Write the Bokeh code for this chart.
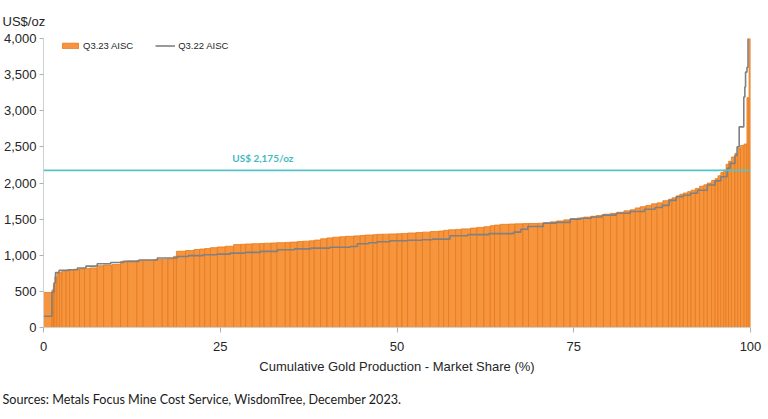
from bokeh.plotting import figure
from bokeh.models import (Range1d, FixedTicker, NumeralTickFormatter, Span, Label,
                          Legend, LegendItem, Title, ColumnDataSource)
from bokeh.embed import file_html
from bokeh.resources import INLINE
import numpy as np

# Q3.23 AISC cost curve: each mine's share of production (%) and its cost (US$/oz)
share_23 = [1.2, 0.2, 0.2, 0.3,
            0.35, 0.35,
            0.6, 0.5, 0.6,
            0.8, 0.7, 0.8,
            1.0,
            0.9, 1.2, 1.2,
            1.0, 1.3, 0.9, 1.5,
            1.2, 0.8, 0.8,
            0.4,
            1.3, 1.2,
            0.8, 0.7, 0.8,
            1.0, 1.1, 1.2,
            1.0, 0.7, 0.9, 1.1, 0.6, 1.0, 0.8, 1.2, 0.7, 1.0,
            0.8, 0.9, 0.7, 0.9,
            0.9, 0.8,
            1.0, 0.8, 1.2, 0.9, 0.7, 1.1, 0.6, 0.8,
            0.9, 1.1, 0.7, 0.8,
            1.2, 0.9, 1.1, 1.2,
            0.7, 0.7,
            1.0, 0.8, 1.3,
            0.9, 1.0, 0.9,
            0.6, 0.8,
            1.2, 0.9, 1.1, 0.8, 1.3, 0.7, 1.1,
            0.9, 1.0, 0.9,
            1.0, 0.9, 1.0,
            0.8, 1.0, 1.0,
            0.9, 1.0, 0.9,
            0.7, 0.7,
            0.8, 0.8, 0.8,
            0.8, 0.8,
            0.5, 0.6, 0.5, 0.5,
            0.6, 0.5, 0.6, 0.6, 0.6,
            0.5, 0.6, 0.5,
            0.4, 0.4, 0.4,
            0.35, 0.35,
            0.4, 0.5, 0.4,
            0.4, 0.5, 0.4,
            0.3, 0.2]
aisc_23 = [485, 520, 600, 700,
           750, 760,
           790, 795, 800,
           805, 812, 818,
           825,
           855, 865, 872,
           915, 922, 928, 932,
           940, 946, 950,
           985,
           1055, 1065,
           1080, 1086, 1092,
           1105, 1115, 1125,
           1148, 1152, 1156, 1160, 1163, 1166, 1170, 1174, 1178, 1182,
           1190, 1195, 1200, 1210,
           1228, 1240,
           1250, 1256, 1262, 1268, 1274, 1280, 1285, 1290,
           1292, 1295, 1298, 1302,
           1308, 1314, 1320, 1328,
           1335, 1345,
           1352, 1358, 1365,
           1376, 1385, 1395,
           1410, 1418,
           1428, 1432, 1435, 1438, 1440, 1443, 1447,
           1462, 1475, 1490,
           1505, 1515, 1528,
           1540, 1550, 1568,
           1580, 1595, 1615,
           1630, 1655,
           1672, 1690, 1712,
           1725, 1755,
           1775, 1795, 1820, 1845,
           1862, 1880, 1900, 1925, 1955,
           1975, 2000, 2035,
           2060, 2100, 2145,
           2180, 2260,
           2300, 2360, 2410,
           2480, 2520, 2540,
           3180, 4150]

# Q3.22 AISC curve: cumulative share (%) where each cost step starts, and its cost
cum_share_22 = [0, 1.2, 1.5, 1.7, 2.2, 3.5, 4.8, 6.0, 7.6, 9.5, 11.3, 13.5, 16.1,
                18.9, 20.5, 22.6, 24.5, 26.4, 28.5, 30.7, 33.1, 35.5, 37.8, 40.5,
                43.4, 44.4, 46.0, 47.2, 49.0, 51.5, 53.5, 55.0, 57.5, 60.0, 63.0,
                66.5, 67.5, 68.5, 70.7, 72.5, 74.5, 76.0, 77.5, 79.0, 81.0, 83.0,
                85.0, 86.5, 87.5, 88.5, 89.5, 90.5, 91.5, 92.5, 93.9, 95.0, 95.8,
                96.7, 97.1, 97.8, 98.1, 98.4, 99.05, 99.2, 99.3, 99.5, 99.65, 100]
aisc_22 = [155, 490, 620, 760, 790, 800, 823, 850, 883, 900, 915, 935, 961,
           983, 995, 1007, 1015, 1030, 1040, 1053, 1076, 1088, 1099, 1110,
           1122, 1159, 1172, 1186, 1200, 1207, 1215, 1223, 1269, 1285, 1300,
           1320, 1360, 1398, 1444, 1455, 1500, 1513, 1530, 1555, 1582, 1605,
           1637, 1660, 1690, 1760, 1811, 1830, 1858, 1900, 1972, 2030, 2087,
           2202, 2271, 2380, 2500, 2777, 3190, 3330, 3535, 3600, 4150, 4150]

gold_price = 2175
x_ticks = [0, 25, 50, 75, 100]
y_ticks = [0, 500, 1000, 1500, 2000, 2500, 3000, 3500, 4000]

AXIS_FONT = "Liberation Sans"
TEXT_COLOR = "#262626"

right_edge = np.cumsum(share_23)
left_edge = right_edge - np.array(share_23)
bars = ColumnDataSource(dict(left=left_edge, right=right_edge, top=aisc_23))

p = figure(width=768, height=419, output_backend="svg", toolbar_location=None,
           x_range=Range1d(0, 100), y_range=Range1d(0, 4000),
           min_border_left=43, min_border_right=18, min_border_top=38,
           min_border_bottom=91)
p.outline_line_color = None
p.xgrid.visible = False
p.ygrid.visible = False
p.background_fill_color = "white"
p.border_fill_color = "white"

bar_r = p.quad(left="left", right="right", bottom=0, top="top", source=bars,
               fill_color="#F7953F", line_color="#E57A1C", line_width=0.8)

line_r = p.step(x=cum_share_22, y=aisc_22, mode="after",
                line_color="#808080", line_width=1.6)

p.add_layout(Span(location=gold_price, dimension="width",
                  line_color="#56C3C8", line_width=1.6))
p.add_layout(Label(x=26.7, y=2345, text="US$ 2,175/oz", text_font="Lato",
                   text_font_size="10px", text_font_style="bold",
                   text_color="#45B9C0", text_baseline="middle"))

# axes
for ax in (p.xaxis, p.yaxis):
    ax.axis_line_color = "#D0D0D0"
    ax.major_tick_line_color = "#B0B0B0"
    ax.minor_tick_line_color = None
    ax.major_tick_in = 0
    ax.major_label_text_font = AXIS_FONT
    ax.major_label_text_font_size = "13px"
    ax.major_label_text_color = TEXT_COLOR

p.xaxis.major_tick_out = 5
p.xaxis.ticker = FixedTicker(ticks=x_ticks)
p.xaxis.major_label_standoff = 9
p.xaxis.axis_label = "Cumulative Gold Production - Market Share (%)"
p.xaxis.axis_label_text_font = AXIS_FONT
p.xaxis.axis_label_text_font_size = "13px"
p.xaxis.axis_label_text_font_style = "normal"
p.xaxis.axis_label_text_color = TEXT_COLOR
p.xaxis.axis_label_standoff = 5

p.yaxis.major_tick_out = 4
p.yaxis.ticker = FixedTicker(ticks=y_ticks)
p.yaxis.formatter = NumeralTickFormatter(format="0,0")
p.yaxis.major_label_standoff = 3

legend = Legend(items=[LegendItem(label="Q3.23 AISC", renderers=[bar_r]),
                       LegendItem(label="Q3.22 AISC", renderers=[line_r])],
                location=(17, 276), orientation="horizontal",
                border_line_color=None, background_fill_alpha=0,
                padding=0, margin=0, spacing=22,
                glyph_width=20, glyph_height=7, label_height=10,
                label_standoff=3, label_text_font=AXIS_FONT,
                label_text_font_size="9.5px", label_text_color=TEXT_COLOR)
p.add_layout(legend)

p.add_layout(Title(text="US$/oz", text_font=AXIS_FONT, text_font_size="13px",
                   text_font_style="normal", text_color=TEXT_COLOR,
                   align="left", offset=-41, standoff=20),
             "above")
p.add_layout(Title(text="Sources: Metals Focus Mine Cost Service, WisdomTree, December 2023.",
                   text_font="Lato", text_font_size="12.6px", text_font_style="normal",
                   text_color="#1A1A1A", align="left", offset=-41, standoff=26),
             "below")

open("out.html", "w").write(file_html(p, INLINE))
